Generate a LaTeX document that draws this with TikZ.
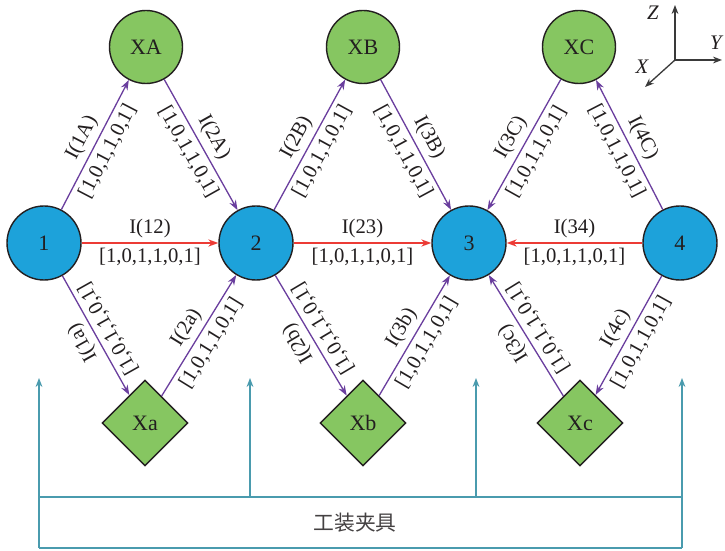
\documentclass[tikz,border=0pt]{standalone}
\usepackage{fontspec}
\setmainfont{Liberation Serif}
\newfontfamily\cjk{Noto Sans CJK SC}
\usetikzlibrary{shapes.geometric,arrows.meta}

\definecolor{nodeblue}{HTML}{1DA2DA}
\definecolor{nodegreen}{HTML}{86C661}
\definecolor{linkpurple}{HTML}{6A3E9E}
\definecolor{linkred}{HTML}{EC3B35}
\definecolor{fixteal}{HTML}{4A9BAE}
\definecolor{ink}{HTML}{231F20}
\definecolor{axisgray}{HTML}{3A3A3A}

% labels on a link: the path runs in the direction the text should read
\newcommand\linklabels[3]{%
  \path (#1) -- (#2) node[ilab]{#3} node[vlab]{[1,0,1,1,0,1]};}

\begin{document}
\begin{tikzpicture}[x=0.5pt,y=0.5pt,
  font=\fontsize{10.35}{12}\selectfont, text=ink,
  station/.style={circle, draw=ink, line width=0.7pt, fill=nodeblue,
    minimum size=37pt, inner sep=0pt, font=\fontsize{11}{13}\selectfont},
  bufround/.style={circle, draw=ink, line width=0.7pt, fill=nodegreen,
    minimum size=36.5pt, inner sep=0pt, font=\fontsize{11}{13}\selectfont},
  bufdiamond/.style={diamond, draw=ink, line width=0.7pt, fill=nodegreen,
    minimum size=43pt, inner sep=0pt, font=\fontsize{11}{13}\selectfont},
  link/.style={draw=linkpurple, line width=0.65pt,
    -{Stealth[length=5pt,width=3.6pt]}},
  mainlink/.style={draw=linkred, line width=0.65pt,
    -{Stealth[length=5pt,width=3.6pt]}},
  ilab/.style={midway, sloped, allow upside down, above, inner sep=2.5pt},
  vlab/.style={midway, sloped, allow upside down, below, inner sep=2.5pt},
  fixline/.style={draw=fixteal, line width=0.7pt},
  fixarrow/.style={fixline, -{Stealth[length=4.5pt,width=3.4pt]}},
  axisarrow/.style={draw=axisgray, line width=0.65pt,
    -{Stealth[length=4.5pt,width=3.4pt]}}
]
\fill[white] (0,0) rectangle (725,551);
\useasboundingbox (0,0) rectangle (725,551);

% stations
\node[station] (n1) at (44,308) {1};
\node[station] (n2) at (256,308) {2};
\node[station] (n3) at (469,308) {3};
\node[station] (n4) at (680,308) {4};

% upper buffers
\node[bufround] (XA) at (146,504) {XA};
\node[bufround] (XB) at (363,504) {XB};
\node[bufround] (XC) at (579,504) {XC};

% lower buffers
\node[bufdiamond] (Xa) at (145,128) {Xa};
\node[bufdiamond] (Xb) at (363,128) {Xb};
\node[bufdiamond] (Xc) at (580,128) {Xc};

% main links
\draw[mainlink] (n1) -- (n2);
\draw[mainlink] (n2) -- (n3);
\draw[mainlink] (n4) -- (n3);
\linklabels{n1}{n2}{I(12)}
\linklabels{n2}{n3}{I(23)}
\linklabels{n3}{n4}{I(34)}

% links through the upper buffers
\draw[link] (n1) -- (XA);
\draw[link] (XA) -- (n2);
\draw[link] (n2) -- (XB);
\draw[link] (XB) -- (n3);
\draw[link] (XC) -- (n3);
\draw[link] (n4) -- (XC);
\linklabels{n1}{XA}{I(1A)}
\linklabels{XA}{n2}{I(2A)}
\linklabels{n2}{XB}{I(2B)}
\linklabels{XB}{n3}{I(3B)}
\linklabels{n3}{XC}{I(3C)}
\linklabels{XC}{n4}{I(4C)}

% links through the lower buffers
\draw[link] (n1) -- (Xa);
\draw[link] (Xa) -- (n2);
\draw[link] (n2) -- (Xb);
\draw[link] (Xb) -- (n3);
\draw[link] (Xc) -- (n3);
\draw[link] (n4) -- (Xc);
\linklabels{Xa}{n1}{I(1a)}
\linklabels{Xa}{n2}{I(2a)}
\linklabels{Xb}{n2}{I(2b)}
\linklabels{Xb}{n3}{I(3b)}
\linklabels{Xc}{n3}{I(3c)}
\linklabels{Xc}{n4}{I(4c)}

% fixture frame
\coordinate (fl) at (39,3);
\coordinate (fr) at (682,3);
\coordinate (bl) at (39,54);
\coordinate (br) at (682,54);
\coordinate (bm1) at (250,54);
\coordinate (bm2) at (476,54);
\coordinate (t1) at (39,173);
\coordinate (t2) at (250,173);
\coordinate (t3) at (476,173);
\coordinate (t4) at (682,173);
\draw[fixline] (bl) -- (br);
\draw[fixline] (fl) -- (fr);
\draw[fixarrow] (fl) -- (t1);
\draw[fixarrow] (fr) -- (t4);
\draw[fixarrow] (bm1) -- (t2);
\draw[fixarrow] (bm2) -- (t3);
\node[text=ink!85, font=\cjk\fontsize{10.4}{12}\selectfont] (fixture) at (355,28) {工装夹具};

% axes
\coordinate (O) at (675,491);
\coordinate (Zt) at (675,546);
\coordinate (Yt) at (722,491);
\coordinate (Xt) at (645,464);
\draw[axisarrow] (O) -- (Zt);
\draw[axisarrow] (O) -- (Yt);
\draw[axisarrow] (O) -- (Xt);
\node (zl) at (653,538) {\itshape Z};
\node (yl) at (716,508) {\itshape Y};
\node (xl) at (642,484) {\itshape X};
\end{tikzpicture}
\end{document}
